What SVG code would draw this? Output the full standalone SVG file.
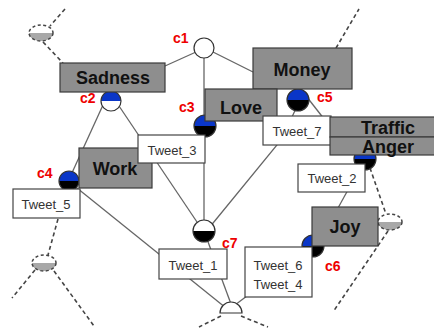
<svg xmlns="http://www.w3.org/2000/svg" xmlns:xlink="http://www.w3.org/1999/xlink" width="434" height="329" viewBox="0 0 434 329">
<style>
.ln{stroke:#666;stroke-width:1.3;fill:none}
.dash{stroke:#444;stroke-width:1.6;fill:none;stroke-dasharray:4 3}
.gbox{fill:#8e8e8e;stroke:#3a3a3a;stroke-width:1.2}
.wbox{fill:#fff;stroke:#444;stroke-width:1.2}
.big{font-family:"Liberation Sans",Arial,sans-serif;font-weight:bold;font-size:18px;fill:#111;text-anchor:middle}
.tw{font-family:"Liberation Sans",Arial,sans-serif;font-size:13px;fill:#333;text-anchor:middle}
.lab{font-family:"Liberation Sans",Arial,sans-serif;font-weight:bold;font-size:14px;fill:#e00}
.ring{fill:none;stroke:#333;stroke-width:1.2}
.blue{fill:#0a36c8}
.blk{fill:#000}
.wht{fill:#fff}
</style>
<defs>
<g id="blob">
<path d="M-12,0 A12,8 0 0 0 12,0 Z" fill="#a8a8a8"/>
<ellipse cx="0" cy="0" rx="12" ry="8" fill="none" stroke="#444" stroke-width="1.5" stroke-dasharray="3 2.5"/>
</g>
</defs>

<g id="connectors">
<line class="ln" x1="165" y1="66" x2="196" y2="52"/>
<line class="ln" x1="213" y1="52" x2="253" y2="72"/>
<line class="ln" x1="204" y1="58" x2="204" y2="222"/>
<line class="ln" x1="103" y1="105" x2="71" y2="175"/>
<line class="ln" x1="117" y1="103" x2="199" y2="225"/>
<polyline class="ln" points="209,228 277,145 292,117 298,104"/>
<line class="ln" x1="303" y1="92" x2="335" y2="133"/>
<line class="ln" x1="72" y1="184" x2="226" y2="308"/>
<line class="ln" x1="204" y1="231" x2="231" y2="304"/>
<line class="ln" x1="313" y1="246" x2="235" y2="305"/>
<line class="ln" x1="365" y1="159" x2="338" y2="208"/>
<line class="dash" x1="65" y1="9" x2="50" y2="26"/>
<line class="dash" x1="43" y1="42" x2="63" y2="63"/>
<line class="dash" x1="336" y1="48" x2="359" y2="9"/>
<line class="dash" x1="58" y1="219" x2="48" y2="255"/>
<line class="dash" x1="35" y1="270" x2="12" y2="298"/>
<line class="dash" x1="54" y1="271" x2="94" y2="326"/>
<line class="dash" x1="221" y1="316" x2="199" y2="327"/>
<line class="dash" x1="241" y1="316" x2="268" y2="327"/>
<line class="dash" x1="370" y1="168" x2="386" y2="214"/>
<line class="dash" x1="388" y1="231" x2="333" y2="312"/>
</g>

<g id="blob1"><use xlink:href="#blob" x="41" y="33"/></g>
<g id="blob2"><use xlink:href="#blob" x="44" y="263"/></g>
<g id="blob3"><use xlink:href="#blob" x="390" y="222"/></g>

<g id="c1">
<circle cx="204" cy="48" r="10" fill="#fff" stroke="#333" stroke-width="1.2"/>
<text class="lab" x="173" y="43">c1</text>
</g>
<g id="c2">
<path class="blue" d="M101,101 A10,10 0 0 1 121,101 Z"/>
<path class="wht" d="M101,101 A10,10 0 0 0 121,101 Z"/>
<circle class="ring" cx="111" cy="101" r="10"/>
<text class="lab" x="80" y="103">c2</text>
</g>
<g id="c3">
<path class="blue" d="M194,126 A11,11 0 0 1 216,126 Z"/>
<path class="blk" d="M194,126 A11,11 0 0 0 216,126 Z"/>
<circle class="ring" cx="205" cy="126" r="11"/>
<text class="lab" x="179" y="112">c3</text>
</g>
<g id="c4">
<path class="blue" d="M59,181 A10,10 0 0 1 79,181 Z"/>
<path class="blk" d="M59,181 A10,10 0 0 0 79,181 Z"/>
<circle class="ring" cx="69" cy="181" r="10"/>
<text class="lab" x="37" y="178">c4</text>
</g>
<g id="c5">
<path class="blue" d="M287,100 A11,11 0 0 1 309,100 Z"/>
<path class="blk" d="M287,100 A11,11 0 0 0 309,100 Z"/>
<circle class="ring" cx="298" cy="100" r="11"/>
<text class="lab" x="317" y="102">c5</text>
</g>
<g id="c8">
<path class="blue" d="M354,159 A11,11 0 0 1 376,159 Z"/>
<path class="blk" d="M354,159 A11,11 0 0 0 376,159 Z"/>
<circle class="ring" cx="365" cy="159" r="11"/>
</g>
<g id="c6">
<path class="blue" d="M302,246 A11,11 0 0 1 324,246 Z"/>
<path class="blk" d="M302,246 A11,11 0 0 0 324,246 Z"/>
<circle class="ring" cx="313" cy="246" r="11"/>
<text class="lab" x="325" y="271">c6</text>
</g>
<g id="c7">
<path class="wht" d="M193,231 A11,11 0 0 1 215,231 Z"/>
<path class="blk" d="M193,231 A11,11 0 0 0 215,231 Z"/>
<circle class="ring" cx="204" cy="231" r="11"/>
<text class="lab" x="222" y="248">c7</text>
</g>
<g id="cbottom">
<path d="M220,313 A11,11 0 0 1 242,313 Z" fill="#fff" stroke="#333" stroke-width="1.2"/>
</g>

<g id="sadness"><rect class="gbox" x="60" y="63" width="105" height="29"/><text class="big" x="113" y="84">Sadness</text></g>
<g id="money"><rect class="gbox" x="253" y="48" width="99" height="41"/><text class="big" x="302" y="76">Money</text></g>
<g id="love"><rect class="gbox" x="205" y="89" width="72" height="32"/><text class="big" x="241" y="114">Love</text></g>
<g id="work"><rect class="gbox" x="79" y="148" width="73" height="40"/><text class="big" x="115" y="175">Work</text></g>
<g id="tweet3"><rect class="wbox" x="138" y="135" width="67" height="28"/><text class="tw" x="172" y="155">Tweet_3</text></g>
<g id="tweet7"><rect class="wbox" x="263" y="116" width="68" height="29"/><text class="tw" x="297" y="136">Tweet_7</text></g>
<g id="traffic"><rect class="gbox" x="330" y="117" width="110" height="20"/><text class="big" x="388" y="134">Traffic</text></g>
<g id="anger"><rect class="gbox" x="330" y="137" width="110" height="18"/><text class="big" x="388" y="153">Anger</text></g>
<g id="tweet2"><rect class="wbox" x="298" y="164" width="67" height="28"/><text class="tw" x="332" y="183">Tweet_2</text></g>
<g id="joy"><rect class="gbox" x="312" y="207" width="66" height="39"/><text class="big" x="345" y="233">Joy</text></g>
<g id="tweet5"><rect class="wbox" x="13" y="189" width="67" height="29"/><text class="tw" x="46" y="209">Tweet_5</text></g>
<g id="tweet1"><rect class="wbox" x="159" y="249" width="68" height="30"/><text class="tw" x="193" y="270">Tweet_1</text></g>
<g id="tweet64"><rect class="wbox" x="245" y="247" width="67" height="50"/><text class="tw" x="278" y="270">Tweet_6</text><text class="tw" x="278" y="289">Tweet_4</text></g>
</svg>
